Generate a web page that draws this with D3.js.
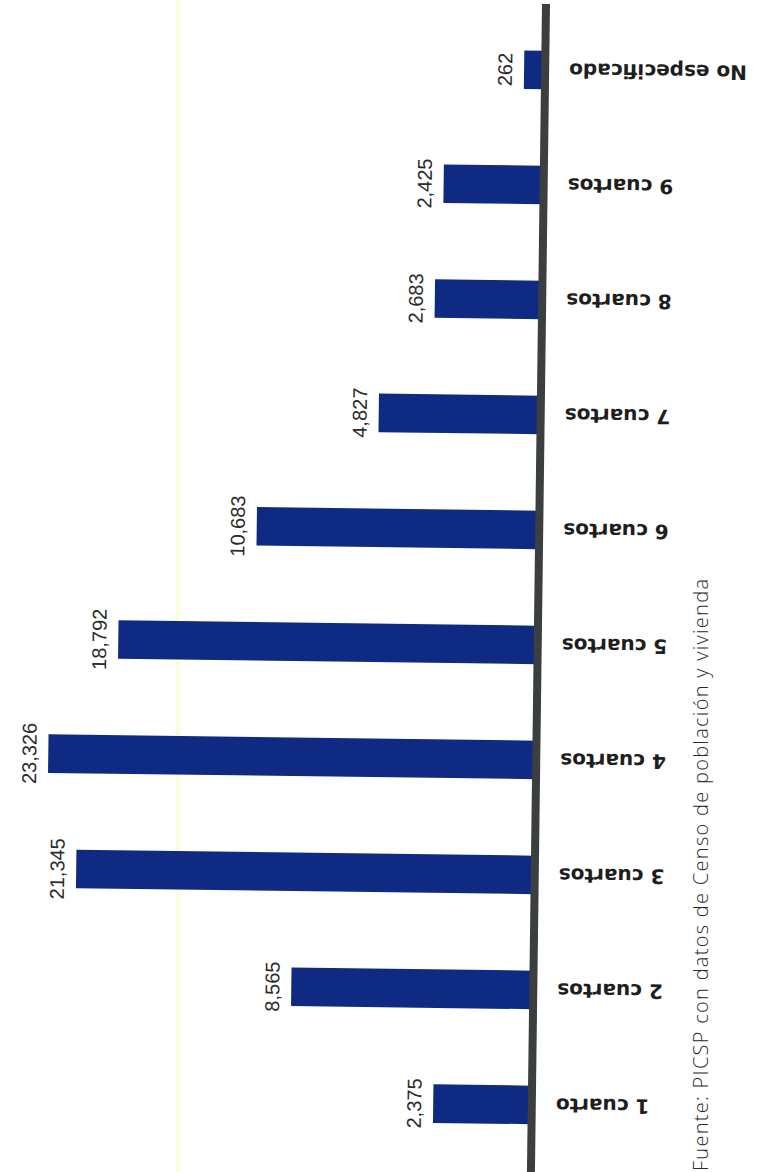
<!DOCTYPE html>
<html>
<head>
<meta charset="utf-8">
<script src="https://cdn.jsdelivr.net/npm/d3@7"></script>
<style>
  html, body { margin: 0; padding: 0; background: #ffffff; }
  svg { display: block; }
</style>
</head>
<body>
<svg id="chart" width="759" height="1172"></svg>
<script>
// ---- data ----
const categories = ["No especificado", "9 cuartos", "8 cuartos", "7 cuartos", "6 cuartos",
                    "5 cuartos", "4 cuartos", "3 cuartos", "2 cuartos", "1 cuarto"];
const values = [262, 2425, 2683, 4827, 10683, 18792, 23326, 21345, 8565, 2375];
const valueLabels = ["262", "2,425", "2,683", "4,827", "10,683", "18,792", "23,326", "21,345", "8,565", "2,375"];
const sourceText = "Fuente: PICSP con datos de Censo de población y vivienda";

// ---- layout ----
const W = 759, H = 1172;
const baseX = 546;
const svg = d3.select("#chart");

svg.append("rect").attr("width", W).attr("height", H).attr("fill", "#ffffff");

// faint yellow vertical line
svg.append("line")
  .attr("x1", 178).attr("x2", 178).attr("y1", 0).attr("y2", H)
  .attr("stroke", "#fbfbe2").attr("stroke-width", 5);

const g = svg.append("g").attr("transform", `rotate(0.74, ${baseX}, 5)`);

const y = d3.scaleBand().domain(categories).range([12.5, 1162.5])
  .paddingInner(0.665).paddingOuter(0.3325);
const x = d3.scalePow().exponent(0.7).domain([0, d3.max(values)]).range([baseX, baseX - 488]);

const data = categories.map((c, i) => ({ cat: c, v: values[i], lab: valueLabels[i] }));

g.selectAll("rect.bar").data(data).join("rect")
  .attr("class", "bar")
  .attr("x", d => x(d.v))
  .attr("y", d => y(d.cat))
  .attr("width", d => x(0) - x(d.v))
  .attr("height", y.bandwidth())
  .attr("fill", "#0e2a82");

// baseline
g.append("line")
  .attr("x1", baseX).attr("x2", baseX).attr("y1", 4).attr("y2", H + 20)
  .attr("stroke", "#3b3f40").attr("stroke-width", 8);

// value labels (rotated -90)
g.selectAll("text.val").data(data).join("text")
  .attr("class", "val")
  .attr("transform", d => `translate(${x(d.v) - 12}, ${y(d.cat) + y.bandwidth() / 2}) rotate(-90)`)
  .attr("text-anchor", "middle")
  .attr("font-family", "'Liberation Sans', Arial, sans-serif")
  .attr("font-size", 20)
  .attr("fill", "#2b2b2b")
  .text(d => d.lab);

// category labels (rotated 180)
g.selectAll("text.cat").data(data).join("text")
  .attr("class", "cat")
  .attr("transform", d => `translate(${baseX + 24}, ${y(d.cat) + y.bandwidth() / 2}) rotate(180)`)
  .attr("text-anchor", "end")
  .attr("dominant-baseline", "central")
  .attr("font-family", "'DejaVu Sans', sans-serif")
  .attr("font-weight", "bold")
  .attr("font-size", 20)
  .attr("fill", "#1e1e1e")
  .text(d => d.cat);

// source note
svg.append("text")
  .attr("transform", `translate(708, 1171) rotate(-90)`)
  .attr("text-anchor", "start")
  .attr("font-family", "'Open Sans', sans-serif")
  .attr("font-weight", 300)
  .attr("font-size", 20)
  .attr("textLength", 592)
  .attr("lengthAdjust", "spacing")
  .attr("fill", "#2b2b2b")
  .text(sourceText);
</script>
</body>
</html>
